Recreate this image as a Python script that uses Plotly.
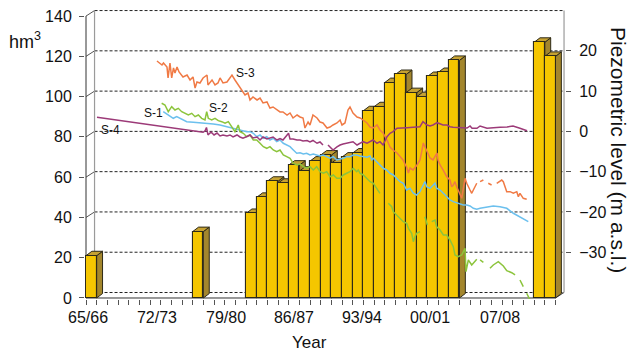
import plotly.graph_objects as go

FONT = "Liberation Sans, Arial, sans-serif"

# ---------------------------------------------------------------- data
# hydrological years 65/66 ... 08/09
seasons = [f"{y % 100:02d}/{(y + 1) % 100:02d}" for y in range(1965, 2009)]

# stored volume per hydrological year (hm3); None = no record
storage = [
    21, None, None, None, None, None, None, None, None, None,   # 65/66-74/75
    33, None, None, None, None, 42, 50, 58, 57, 66,             # 75/76-84/85
    63, 68, 71, 67, 70, 72, 93, 95, 107, 111,                   # 85/86-94/95
    102, 100, 110, 112, 118, None, None, None, None, None,      # 95/96-04/05
    None, None, 127, 120,                                       # 05/06-08/09
]

# axis labels along the year axis
year_labels = ["65/66", "72/73", "79/80", "86/87", "93/94", "00/01", "07/08"]
year_label_pos = [1965.19, 1971.65, 1978.12, 1984.49, 1990.86, 1997.24, 2003.80]

# piezometric level (m a.s.l.) as (decimal year, level); (None, None) = gap
well_s1 = [
    (1972.24, 4.89), (1972.56, 4.32), (1972.87, 3.82), (1973.18, 3.25), (1973.50, 3.65),
    (1973.81, 3.25), (1974.12, 2.83), (1974.44, 2.41), (1975.06, 2.26), (1975.68, 2.16),
    (1976.31, 2.01), (1976.93, 1.84), (1977.56, 1.59), (1978.19, 1.17), (1978.81, 0.77),
    (1979.43, 0.35), (1980.06, -0.07), (1980.37, -0.07), (1980.68, -0.47), (1981.00, -1.32),
    (1981.31, -0.89), (1981.62, -1.71), (1981.94, -1.32), (1982.24, -2.14), (1982.55, -1.71),
    (1982.87, -2.56), (1983.18, -2.14), (1983.49, -2.95), (1983.81, -3.38), (1984.12, -3.80),
    (1984.43, -4.62), (1984.75, -5.44), (1985.06, -5.29), (1985.37, -5.61), (1985.68, -5.44),
    (1985.99, -5.86), (1986.30, -5.61), (1986.62, -5.86), (1986.93, -6.11), (1987.24, -5.86),
    (1987.56, -6.28), (1987.87, -6.68), (1988.18, -6.28), (1988.50, -7.10), (1988.81, -6.85),
    (1989.11, -6.68), (1989.43, -6.28), (1989.74, -6.28), (1990.05, -5.86), (1990.37, -5.86),
    (1990.68, -6.11), (1990.99, -6.28), (1991.31, -6.43), (1991.62, -6.11), (1991.78, -7.10),
    (1991.93, -6.68), (1992.24, -7.52), (1992.55, -8.34), (1992.86, -9.16), (1993.18, -9.58),
    (1993.49, -10.40), (1993.80, -10.82), (1994.12, -11.64), (1994.43, -12.49), (1994.74, -12.88),
    (1995.05, -14.55), (1995.37, -14.13), (1995.68, -15.37), (1995.99, -15.79), (1996.30, -14.97),
    (1996.61, -13.31), (1996.77, -12.49), (1996.93, -13.73), (1997.24, -14.13), (1997.55, -13.31),
    (1997.71, -12.88), (1997.87, -14.13), (1998.18, -14.55), (1998.49, -15.37), (1998.80, -16.21),
    (1999.11, -17.03), (1999.42, -17.45), (1999.74, -17.70), (2000.05, -17.85), (2000.36, -18.27),
    (2000.68, -18.27), (2000.99, -18.52), (2001.30, -19.09), (2001.62, -19.34), (2001.93, -19.09),
    (2002.55, -18.84), (2003.17, -18.52), (2003.80, -18.69), (2004.43, -19.09), (2005.05, -20.33),
    (2005.67, -21.18), (2006.45, -22.42),
]

well_s2 = [
    (1972.09, 6.98), (1972.40, 6.55), (1972.71, 4.89), (1973.03, 6.13), (1973.34, 5.31),
    (1973.65, 5.73), (1973.97, 4.89), (1974.28, 4.49), (1974.59, 4.07), (1974.91, 4.49),
    (1975.22, 3.65), (1975.53, 4.07), (1975.84, 3.25), (1976.15, 2.83), (1976.31, 4.89),
    (1976.46, 3.25), (1976.78, 2.83), (1977.09, 3.25), (1977.40, 2.66), (1977.72, 2.41),
    (1978.03, 2.01), (1978.34, 2.41), (1978.66, 1.17), (1978.96, -0.07), (1979.12, 0.77),
    (1979.27, 1.59), (1979.43, -0.07), (1979.74, -0.47), (1980.06, -1.32), (1980.37, -0.89),
    (1980.68, -2.14), (1981.00, -2.14), (1981.31, -2.95), (1981.62, -3.80), (1981.94, -4.20),
    (1982.24, -3.80), (1982.55, -4.62), (1982.87, -5.04), (1983.18, -4.62), (1983.49, -5.86),
    (1983.81, -6.28), (1984.12, -6.68), (1984.43, -7.92), (1984.75, -8.34), (1985.06, -8.09),
    (1985.37, -8.76), (1985.68, -9.16), (1985.99, -8.76), (1986.30, -9.58), (1986.62, -8.76),
    (1986.93, -10.01), (1987.24, -10.40), (1987.56, -10.01), (1987.87, -11.25), (1988.18, -10.82),
    (1988.50, -11.64), (1988.81, -11.64), (1989.11, -10.82), (1989.43, -10.40), (1989.74, -10.01),
    (1990.05, -9.16), (1990.37, -10.01), (1990.52, -9.58), (1990.68, -10.40), (1990.99, -10.82),
    (1991.31, -11.64), (1991.62, -12.49), (1991.93, -12.88), (1992.24, -14.13), (1992.55, -15.37),
    (None, None),
    (1993.33, -17.85), (1993.65, -18.69), (1993.80, -19.94), (1994.12, -20.75), (1994.43, -21.57),
    (1994.74, -22.42), (1995.05, -22.82), (1995.21, -24.06), (1995.52, -25.30), (1995.68, -27.38),
    (1995.83, -26.14), (1995.99, -25.30), (1996.30, -24.90),
    (None, None),
    (1996.77, -21.18), (1996.99, -23.24),
    (None, None),
    (1997.40, -22.42), (1997.71, -22.00), (1997.86, -23.66), (1998.18, -24.48), (1998.49, -25.72),
    (1998.80, -25.72), (1999.11, -26.96), (1999.42, -28.62), (1999.58, -30.69), (1999.89, -31.11),
    (2000.21, -30.69), (2000.52, -29.02), (2000.61, -34.83), (2000.83, -31.93), (2001.15, -33.17),
    (2001.46, -32.35), (2001.62, -31.76),
    (None, None),
    (2001.93, -31.93), (2002.24, -32.50),
    (None, None),
    (2002.86, -33.99), (2003.17, -33.17), (2003.64, -32.35), (2004.11, -33.42), (2004.43, -34.58),
    (2004.90, -35.08), (2005.21, -35.65),
    (None, None),
    (2005.67, -36.89), (2005.98, -38.56),
    (None, None),
    (2006.30, -40.19), (2006.61, -41.86),
]

well_s3 = [
    (1971.65, 17.48), (1972.12, 16.48), (1972.26, 16.98), (1972.59, 15.99), (1972.69, 13.26),
    (1972.87, 16.98), (1973.03, 13.26), (1973.20, 15.74), (1973.34, 14.50), (1973.53, 15.99),
    (1973.72, 14.75), (1974.09, 13.51), (1974.47, 14.00), (1974.75, 12.76), (1975.03, 13.51),
    (1975.22, 10.77), (1975.40, 12.26), (1975.68, 12.02), (1975.97, 13.26), (1976.34, 14.00),
    (1976.43, 11.52), (1976.81, 12.76), (1977.09, 11.52), (1977.37, 12.02), (1977.56, 13.26),
    (1977.84, 12.02), (1978.21, 12.26), (1978.50, 13.51), (1978.68, 14.00), (1978.96, 12.76),
    (1979.43, 11.02), (1979.71, 9.78), (1979.90, 9.04), (1980.18, 9.53), (1980.37, 7.80),
    (1980.65, 8.54), (1981.03, 7.80), (1981.31, 8.29), (1981.59, 7.05), (1981.96, 7.30),
    (1982.24, 5.81), (1982.53, 6.06), (1982.90, 5.31), (1983.18, 4.82), (1983.46, 4.82),
    (1983.84, 4.07), (1984.12, 4.57), (1984.40, 3.33), (1984.78, 4.07), (1985.06, 3.58),
    (1985.34, 3.33), (1985.52, 0.84), (1985.81, 2.33), (1985.99, 1.59), (1986.27, 4.07),
    (1986.65, 3.33), (1986.93, 2.33), (1987.21, 2.09), (1987.59, 0.84), (1987.87, 1.09),
    (1988.15, 1.59), (1988.52, 2.09), (1988.81, 2.83), (1988.99, 1.59), (1989.27, 2.09),
    (1989.55, 5.31), (1989.74, 6.06), (1990.02, 4.57), (1990.40, 3.58), (1990.68, 3.33),
    (1990.96, 2.83), (1991.34, 2.09), (1991.62, 1.09), (1991.90, 0.84), (1992.27, 1.59),
    (1992.55, 0.35), (1992.84, -0.40), (1993.21, -2.14), (1993.49, -3.87), (1993.77, -4.62),
    (1994.15, -5.36), (1994.43, -6.36), (1994.71, -7.10), (1995.08, -9.09), (1995.21, -10.33),
    (1995.37, -9.09), (1995.65, -9.58), (1996.02, -8.34), (1996.30, -7.10), (1996.49, -4.62),
    (1996.61, -2.88), (1996.77, -3.87), (1996.96, -5.11), (1997.24, -6.60), (1997.52, -7.10),
    (1997.90, -5.36), (1997.99, -7.10), (1998.18, -8.34), (1998.46, -9.58), (1998.81, -11.25),
    (1999.11, -12.07), (1999.27, -13.73), (1999.42, -13.31), (1999.58, -12.49), (1999.74, -13.73),
    (1999.89, -14.55), (2000.05, -15.37), (2000.21, -16.61), (2000.52, -11.64), (2000.68, -12.88),
    (2000.99, -14.55), (2001.15, -15.37), (2001.30, -14.55), (2001.46, -13.73), (2001.62, -12.88),
    (None, None),
    (2001.93, -12.49), (2002.24, -12.07),
    (None, None),
    (2002.70, -12.88), (2003.01, -13.31),
    (None, None),
    (2003.49, -12.88), (2003.96, -12.07), (2004.11, -12.49), (2004.43, -14.97), (2004.74, -14.97),
    (2005.05, -15.37), (2005.37, -14.97), (2005.52, -16.21), (2005.67, -15.37), (2005.98, -16.61),
    (2006.30, -16.86),
]

well_s4 = [
    (1966.03, 3.50), (1975.97, -0.22), (1976.15, 0.10), (1976.29, 0.97), (1976.43, -0.89),
    (1976.72, -0.15), (1977.00, -0.89), (1977.28, -0.40), (1977.56, -1.14), (1977.84, -0.89),
    (1978.21, -1.14), (1978.50, -0.89), (1978.78, -1.39), (1979.15, -0.89), (1979.43, -1.39),
    (1979.71, -1.71), (1980.09, -1.27), (1980.37, -0.89), (1980.65, -1.64), (1981.03, -1.39),
    (1981.31, -2.14), (1981.59, -1.39), (1981.96, -1.89), (1982.24, -1.64), (1982.53, -1.39),
    (1982.90, -2.14), (1983.18, -1.76), (1983.46, -2.14), (1983.84, -0.89), (1983.98, -0.47),
    (1984.12, -1.89), (1984.40, -1.89), (1984.78, -2.14), (1985.06, -2.14), (1985.34, -2.38),
    (1985.71, -2.26), (1985.99, -2.63), (1986.27, -2.26), (1986.65, -2.95), (1986.93, -2.63),
    (1987.21, -3.38),
    (None, None),
    (1987.68, -3.38), (1988.15, -4.62), (1988.52, -3.87), (1988.81, -3.38), (1989.09, -3.13),
    (1989.46, -2.95), (1989.74, -2.76), (1990.02, -2.56), (1990.40, -3.38), (1990.68, -2.95),
    (1990.96, -2.56), (1991.34, -2.95), (1991.62, -2.56), (1991.90, -2.14), (1992.27, -2.95),
    (1992.55, -2.56), (1992.84, -3.38), (1993.21, -1.32), (1993.49, -0.47), (1993.77, -0.07),
    (1994.15, 0.77), (1994.43, 0.77), (1995.08, 0.92), (1995.65, 1.02), (1996.30, 1.17),
    (1996.58, 2.41), (1996.96, 1.59), (1997.24, 1.34), (1997.52, 1.59), (1997.90, 2.16),
    (1998.18, 1.84), (1998.46, 1.59), (1998.83, 1.59), (1999.11, 1.17), (1999.40, 1.02),
    (2000.05, 0.92), (2000.71, 0.84), (2000.99, 1.34), (2001.18, 0.77), (2001.64, 0.77),
    (2001.93, 1.34), (2002.58, 0.77), (2003.14, 0.92), (2003.80, 1.02), (2004.46, 1.09),
    (2005.02, 1.34), (2005.67, 0.77), (2006.33, 0.17),
]

wells = [
    ("S-1", well_s1, "#6cc0ee"),
    ("S-2", well_s2, "#8cc43c"),
    ("S-3", well_s3, "#f07a45"),
    ("S-4", well_s4, "#9c3a78"),
]
# series names placed next to the curves (decimal year, level)
well_names = [("S-1", 1971.28, 4.57), ("S-2", 1977.46, 5.81),
              ("S-3", 1979.99, 14.62), ("S-4", 1967.34, 0.47)]

# ---------------------------------------------------------------- geometry
t0, t1 = 1965, 2009              # first / last season boundary
wall_dx, wall_dy = 0.8, 2.73     # depth of the back wall
bar_dx, bar_dy = 0.55, 2.2       # depth of each column
x_range = [t0 - 0.094, 2009.89]
y_range = [-0.5, 144.0]
# right scale is tied to the back wall: level 0 sits on the 80 hm3 line
y2_range = [(v - 80 - wall_dy) / 2 for v in y_range]

FRONT = "#f5c600"
TOP = "#c6a232"
SIDE = "#a3862d"
EDGE = "#2e2a18"

shapes = []
# back wall grid (dashed) and left wall diagonals
for v in range(0, 141, 20):
    shapes.append(dict(type="line", xref="x", yref="y", layer="below",
                       x0=t0 + wall_dx, x1=t1 + wall_dx, y0=v + wall_dy, y1=v + wall_dy,
                       line=dict(color="#222222", width=1, dash="3px,2px")))
    shapes.append(dict(type="line", xref="x", yref="y", layer="below",
                       x0=t0, x1=t0 + wall_dx, y0=v, y1=v + wall_dy,
                       line=dict(color="#555555", width=1)))
# wall edges
for xe in (t0 + wall_dx, t1 + wall_dx):
    shapes.append(dict(type="line", xref="x", yref="y", layer="below",
                       x0=xe, x1=xe, y0=wall_dy, y1=140 + wall_dy,
                       line=dict(color="#9a9a9a", width=1.2)))
shapes.append(dict(type="line", xref="x", yref="y", layer="below",
                   x0=t1, x1=t1 + wall_dx, y0=0, y1=wall_dy,
                   line=dict(color="#555555", width=1)))
# front axis lines
shapes.append(dict(type="line", xref="x", yref="y", layer="below",
                   x0=t0, x1=t0, y0=0, y1=140, line=dict(color="#333333", width=1)))
shapes.append(dict(type="line", xref="x", yref="y", layer="below",
                   x0=t0, x1=t1, y0=0, y1=0, line=dict(color="#333333", width=1)))

# column side and top faces, drawn beneath the front faces
bar_x = []
for i, v in enumerate(storage):
    if v is None:
        continue
    x0 = t0 + i
    x1 = x0 + 1
    bar_x.append(x0 + 0.5)
    shapes.append(dict(type="path", xref="x", yref="y", layer="below",
                       path=f"M{x1},0 L{x1 + bar_dx},{bar_dy} L{x1 + bar_dx},{v + bar_dy} L{x1},{v} Z",
                       fillcolor=SIDE, line=dict(color=EDGE, width=1)))
    shapes.append(dict(type="path", xref="x", yref="y", layer="below",
                       path=f"M{x0},{v} L{x0 + bar_dx},{v + bar_dy} L{x1 + bar_dx},{v + bar_dy} L{x1},{v} Z",
                       fillcolor=TOP, line=dict(color=EDGE, width=1)))

bar_y = [v for v in storage if v is not None]
bar_text = [s for s, v in zip(seasons, storage) if v is not None]

fig = go.Figure()
fig.add_trace(go.Bar(x=bar_x, y=bar_y, width=1, customdata=bar_text,
                     marker=dict(color=FRONT, line=dict(color=EDGE, width=1.1)),
                     hovertemplate="%{customdata}: %{y} hm³<extra></extra>",
                     showlegend=False))

for name, pts, color in wells:
    fig.add_trace(go.Scatter(x=[p[0] for p in pts], y=[p[1] for p in pts],
                             yaxis="y2", mode="lines", name=name,
                             line=dict(color=color, width=1.5),
                             connectgaps=False, showlegend=False))

annotations = [
    dict(text=n, x=tx, y=lv, xref="x", yref="y2", showarrow=False,
         xanchor="center", yanchor="middle",
         font=dict(family=FONT, size=12, color="#111111"))
    for n, tx, lv in well_names
]
annotations += [
    dict(text="hm<sup>3</sup>", x=-0.125, y=0.89, xref="paper", yref="paper",
         xanchor="center", yanchor="middle",
         showarrow=False, font=dict(family=FONT, size=18, color="#111111")),
    dict(text="Year", x=0.467, y=-0.151, xref="paper", yref="paper",
         xanchor="center", yanchor="middle",
         showarrow=False, font=dict(family=FONT, size=17, color="#111111")),
    dict(text="Piezometric level (m a.s.l.)", x=1.1125, y=0.512, xref="paper", yref="paper",
         xanchor="center", yanchor="middle",
         textangle=90, showarrow=False, font=dict(family=FONT, size=21, color="#111111")),
]

fig.update_layout(
    width=630, height=355,
    margin=dict(l=85, r=65, t=8, b=56),
    paper_bgcolor="white", plot_bgcolor="white",
    font=dict(family=FONT, size=16, color="#111111"),
    bargap=0,
    shapes=shapes,
    annotations=annotations,
    xaxis=dict(range=x_range, tickvals=year_label_pos, ticktext=year_labels,
               ticks="outside", ticklen=0, showgrid=False, zeroline=False, showline=False,
               ticklabelstandoff=4, tickfont=dict(size=16),
               minor=dict(ticks="outside", ticklen=5, tick0=t0, dtick=1,
                          tickcolor="#555555", showgrid=False)),
    yaxis=dict(range=y_range, tickvals=list(range(0, 141, 20)),
               ticks="outside", ticklen=5, tickcolor="#555555",
               showgrid=False, zeroline=False, showline=False,
               ticklabelstandoff=4, tickfont=dict(size=16)),
    yaxis2=dict(range=y2_range, overlaying="y", side="right",
                tickvals=[-30, -20, -10, 0, 10, 20],
                ticks="outside", ticklen=5, tickcolor="#555555",
                showgrid=False, zeroline=False, showline=False,
                ticklabelstandoff=5, tickfont=dict(size=16)),
)

fig.write_html("out.html")
